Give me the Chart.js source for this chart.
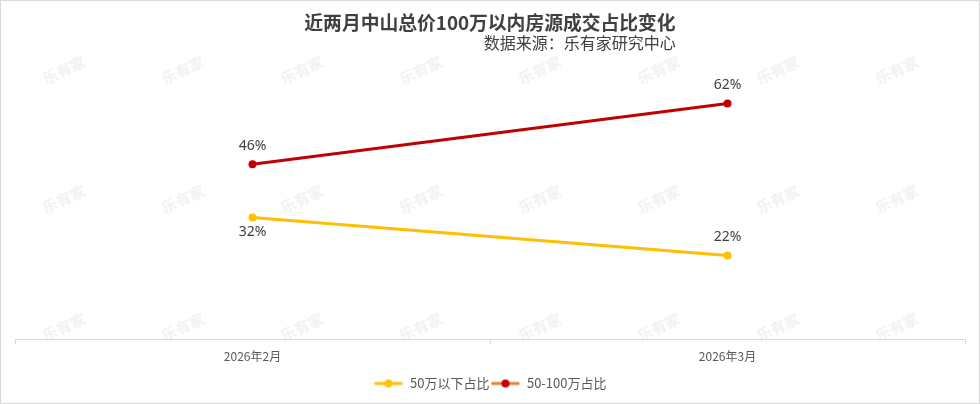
<!DOCTYPE html>
<html>
<head>
<meta charset="utf-8">
<script src="https://cdn.jsdelivr.net/npm/chart.js@4/dist/chart.umd.min.js"></script>
<style>
  html, body { margin: 0; padding: 0; background: #fff; }
  #wrap {
    position: relative; width: 978px; height: 402px;
    border: 1px solid #d9d9d9; overflow: hidden;
    font-family: "Noto Sans CJK SC", "Noto Sans", sans-serif;
  }
  #chart { position: absolute; left: -1px; top: -1px; }
  #head {
    position: absolute; left: 0; right: 0; top: 9px; text-align: center;
  }
  #head .box { display: inline-block; text-align: right; }
  #head .t { font-size: 18.8px; font-weight: bold; color: #404040; line-height: 24px; }
  #head .s { font-size: 16px; color: #404040; line-height: 20px; margin-top: -2px; }
  .wm {
    position: absolute; color: #f2f2f2; font-size: 15px; font-weight: bold;
    transform: rotate(-25deg); white-space: nowrap;
  }
</style>
</head>
<body>
<div id="wrap">
  <div id="marks"></div>
  <canvas id="chart" width="980" height="404"></canvas>
  <div id="head"><div class="box">
    <div class="t">近两月中山总价100万以内房源成交占比变化</div>
    <div class="s">数据来源：乐有家研究中心</div>
  </div></div>
</div>
<script>
// 数据
const months = ['2026年2月', '2026年3月'];
const seriesNames = ['50万以下占比', '50-100万占比'];
const under50 = [32, 22];
const from50to100 = [46, 62];

// 水印
const marks = document.getElementById('marks');
[68, 197, 325].forEach(y => {
  for (let i = 0; i < 8; i++) {
    const s = document.createElement('span');
    s.className = 'wm';
    s.textContent = '乐有家';
    s.style.left = (40 + i * 119) + 'px';
    s.style.top = (y - 10) + 'px';
    marks.appendChild(s);
  }
});

// 图例标记：线 + 圆点
function legendMark(lineColor, dotColor) {
  const c = document.createElement('canvas');
  c.width = 30; c.height = 10;
  const g = c.getContext('2d');
  g.strokeStyle = lineColor; g.lineWidth = 3;
  g.beginPath(); g.moveTo(1, 5); g.lineTo(29, 5); g.stroke();
  g.fillStyle = dotColor;
  g.beginPath(); g.arc(15, 5, 4, 0, Math.PI * 2); g.fill();
  return c;
}
const marksLegend = [legendMark('#FFC000', '#FFC000'), legendMark('#ED7D31', '#C00000')];

// 数据标签
const labelPlugin = {
  id: 'valueLabels',
  afterDatasetsDraw(chart) {
    const ctx = chart.ctx;
    ctx.save();
    ctx.font = '14px "Noto Sans", "Noto Sans CJK SC", sans-serif';
    ctx.fillStyle = '#404040';
    ctx.textAlign = 'center';
    ctx.textBaseline = 'middle';
    chart.data.datasets.forEach((ds, di) => {
      chart.getDatasetMeta(di).data.forEach((pt, i) => {
        const below = ds.labelBelow[i];
        ctx.fillText(ds.data[i] + '%', pt.x, pt.y + (below ? 15 : -18));
      });
    });
    ctx.restore();
  }
};

new Chart(document.getElementById('chart'), {
  type: 'line',
  data: {
    labels: months,
    datasets: [
      {
        label: seriesNames[0], data: under50, labelBelow: [true, false],
        borderColor: '#FFC000', backgroundColor: '#FFC000',
        borderWidth: 3, pointRadius: 4, pointBorderWidth: 0, pointHoverRadius: 4
      },
      {
        label: seriesNames[1], data: from50to100, labelBelow: [false, false],
        borderColor: '#C00000', backgroundColor: '#C00000',
        borderWidth: 3, pointRadius: 4, pointBorderWidth: 0, pointHoverRadius: 4
      }
    ]
  },
  options: {
    responsive: false,
    animation: false,
    layout: { padding: { left: 15, right: 15, top: 73, bottom: 4 } },
    scales: {
      x: {
        offset: true,
        afterFit: (scale) => { scale.height = 37; },
        grid: { offset: true, drawOnChartArea: false, color: '#d9d9d9', tickLength: 5 },
        border: { color: '#d9d9d9' },
        ticks: { color: '#595959', font: { size: 12, family: '"Noto Sans CJK SC", sans-serif' }, padding: 5 }
      },
      y: { display: false, min: 0, max: 70 }
    },
    plugins: {
      tooltip: { enabled: false },
      legend: {
        position: 'bottom',
        labels: {
          usePointStyle: true,
          pointStyleWidth: 30,
          color: '#595959',
          font: { size: 13, family: '"Noto Sans CJK SC", sans-serif' },
          padding: 1,
          generateLabels: (chart) => chart.data.datasets.map((ds, i) => ({
            text: ds.label,
            pointStyle: marksLegend[i],
            fontColor: '#595959',
            datasetIndex: i,
            hidden: false
          }))
        }
      }
    }
  },
  plugins: [labelPlugin]
});
</script>
</body>
</html>
